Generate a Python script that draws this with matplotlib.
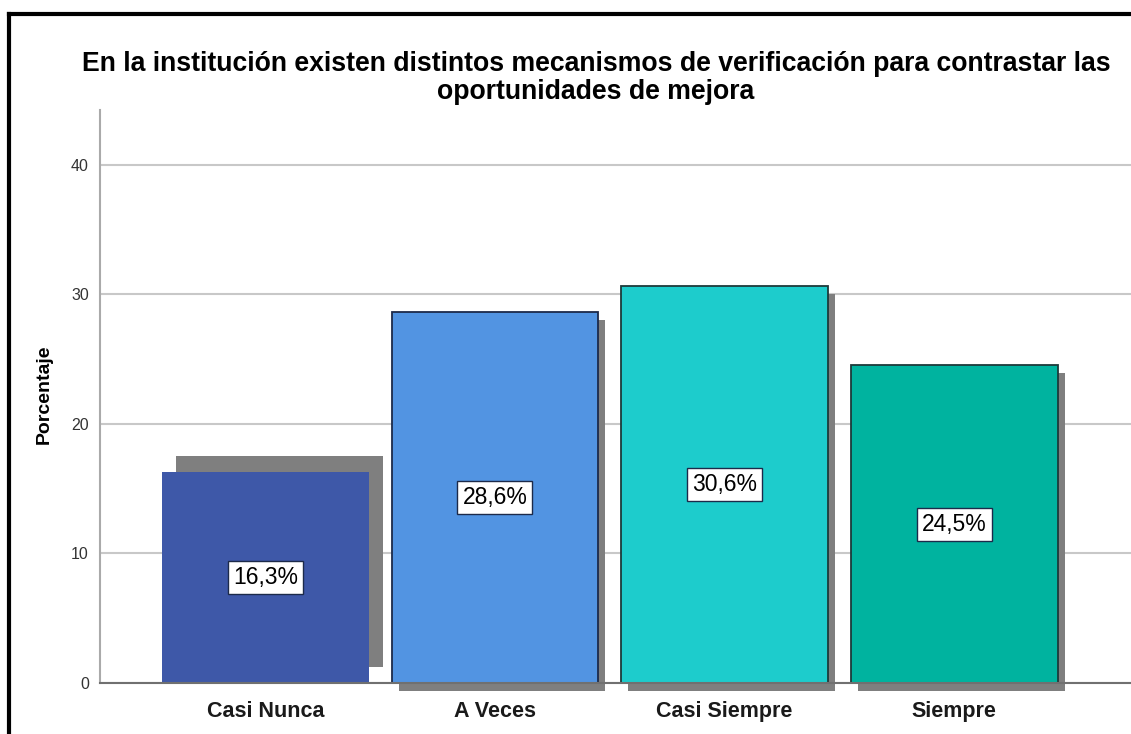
import matplotlib
matplotlib.use("Agg")
import matplotlib.pyplot as plt
import matplotlib.transforms as mtransforms
from matplotlib.lines import Line2D

# data
categories = ["Casi Nunca", "A Veces", "Casi Siempre", "Siempre"]
values = [16.3, 28.6, 30.6, 24.5]
bar_labels = ["16,3%", "28,6%", "30,6%", "24,5%"]
y_ticks = [0, 10, 20, 30, 40]

bar_colors = ["#3e58a8", "#5294e2", "#1dcccc", "#00b39f"]
edge_colors = ["none", "#1c2a4a", "#1c3a3a", "#1c3a3a"]
# shadow offsets in pixels (first bar's shadow sits up-right in the original)
shadow_dx = [14, 7, 7, 7]
shadow_dy = [16, -8, -8, -8]

plt.rcParams["font.family"] = ["Liberation Sans", "DejaVu Sans"]

fig = plt.figure(figsize=(11.31, 7.34), dpi=100)
ax = fig.add_axes([0.0884, 0.0695, 1 - 0.0884, 0.850 - 0.0695])

x = list(range(len(categories)))
width = 0.9

for i in x:
    tr = mtransforms.offset_copy(ax.transData, fig, x=shadow_dx[i], y=shadow_dy[i], units="dots")
    ax.bar(x[i], values[i], width=width, color="#7f7f7f", transform=tr,
           zorder=2, clip_on=False, linewidth=0)

ax.bar(x, values, width=width, color=bar_colors, edgecolor=edge_colors,
       linewidth=1.3, zorder=3)

for i in x:
    ax.text(x[i], values[i] / 2, bar_labels[i], ha="center", va="center",
            fontsize=16.5, color="black", zorder=5,
            bbox=dict(boxstyle="square,pad=0.22", facecolor="white",
                      edgecolor="#1c2a4a", linewidth=1))

ax.set_xlim(-0.72, 3.77)
ax.set_ylim(0, 44.2)
ax.set_yticks(y_ticks)
ax.set_yticklabels([str(t) for t in y_ticks], fontsize=11.5, color="#333333")
ax.set_xticks(x)
ax.set_xticklabels(categories, fontsize=15.5, fontweight="bold", color="#1a1a1a")
ax.tick_params(axis="both", length=0)
ax.tick_params(axis="y", pad=8)
ax.tick_params(axis="x", pad=13)

ax.yaxis.grid(True, color="#c8c8c8", linewidth=1.5, zorder=0)
ax.set_axisbelow(True)
for s in ["top", "right"]:
    ax.spines[s].set_visible(False)
ax.spines["left"].set_color("#aaaaaa")
ax.spines["left"].set_linewidth(1.5)
ax.spines["bottom"].set_color("#707070")
ax.spines["bottom"].set_linewidth(1.5)
ax.spines["bottom"].set_zorder(4)

ax.set_ylabel("Porcentaje", fontsize=14, fontweight="bold")
ax.yaxis.set_label_coords(-0.046, 0.504)

fig.text(0.527, 0.894, "En la institución existen distintos mecanismos de verificación para contrastar las\noportunidades de mejora",
         ha="center", va="center", fontsize=19.2, fontweight="bold", linespacing=1.1)

# black frame on left and top
fig.add_artist(Line2D([0.0080, 0.0080], [0, 0.981], color="black", linewidth=3, transform=fig.transFigure))
fig.add_artist(Line2D([0.0080, 1.0], [0.981, 0.981], color="black", linewidth=3, transform=fig.transFigure))

fig.savefig("out.png", dpi=100)
